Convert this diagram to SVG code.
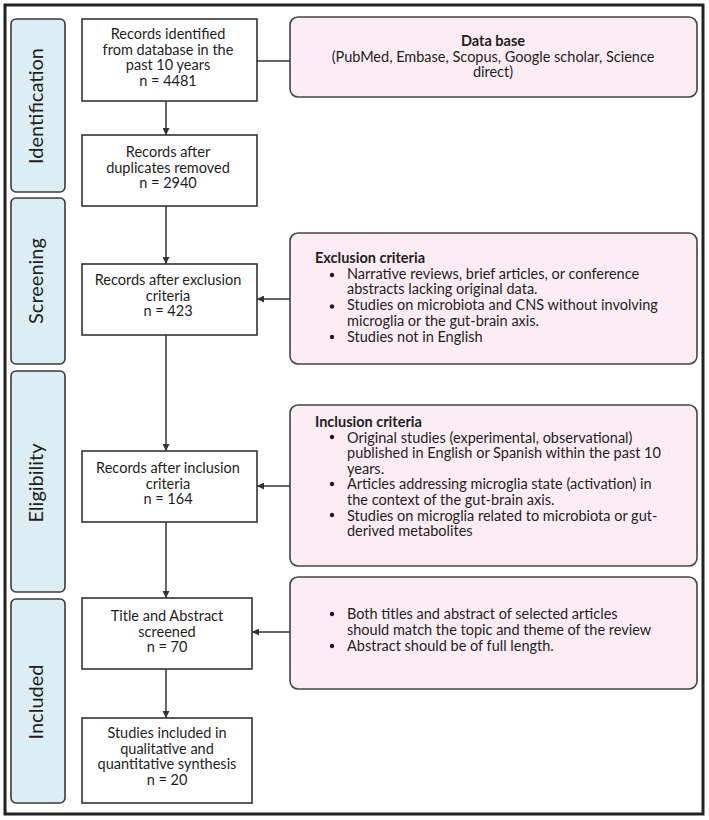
<svg xmlns="http://www.w3.org/2000/svg" width="709" height="820" viewBox="0 0 709 820">
<defs>
<style>
text{font-family:Lato,"Liberation Sans",sans-serif;fill:#1e1e1e;font-size:14.5px}
.c{text-anchor:middle}
.b{font-weight:bold}
.side rect{fill:#dcedf4;stroke:#3a3a3a;stroke-width:1.6}
.side text{font-size:20px;text-anchor:middle}
.box rect{fill:#fff;stroke:#333;stroke-width:1.6}
.crit rect{fill:#fcedf4;stroke:#444;stroke-width:1.6}
.crit circle{fill:#1e1e1e}
.con line{stroke:#333;stroke-width:1.5}
</style>
<marker id="ah" viewBox="0 0 10 10" refX="10" refY="5" markerWidth="7" markerHeight="7" orient="auto" markerUnits="userSpaceOnUse">
<path d="M0,0 L10,5 L0,10 z" fill="#333"/>
</marker>
</defs>
<rect x="5" y="5" width="698" height="809" fill="#fff" stroke="#222" stroke-width="3"/>

<g id="side-identification" class="side"><rect x="11" y="19" width="54" height="173" rx="5"/><text transform="translate(43,106) rotate(-90)">Identification</text></g>
<g id="side-screening" class="side"><rect x="11" y="198" width="54" height="166" rx="5"/><text transform="translate(43,281) rotate(-90)">Screening</text></g>
<g id="side-eligibility" class="side"><rect x="11" y="371" width="54" height="221" rx="5"/><text transform="translate(43,483) rotate(-90)">Eligibility</text></g>
<g id="side-included" class="side"><rect x="11" y="599" width="54" height="204" rx="5"/><text transform="translate(43,702) rotate(-90)">Included</text></g>

<g id="box-identified" class="box"><rect x="82" y="19" width="175" height="82"/>
<text class="c" x="168" y="39">Records identified<tspan x="168" dy="15.6">from database in the</tspan><tspan x="168" dy="15.6">past 10 years</tspan><tspan x="168" dy="15.6">n = 4481</tspan></text></g>
<g id="box-duplicates" class="box"><rect x="82" y="135" width="175" height="71"/>
<text class="c" x="168" y="157">Records after<tspan x="168" dy="15.6">duplicates removed</tspan><tspan x="168" dy="15.6">n = 2940</tspan></text></g>
<g id="box-exclusion" class="box"><rect x="82" y="264" width="175" height="71"/>
<text class="c" x="168" y="285">Records after exclusion<tspan x="168" dy="15.6">criteria</tspan><tspan x="168" dy="15.6">n = 423</tspan></text></g>
<g id="box-inclusion" class="box"><rect x="82" y="451" width="175" height="71"/>
<text class="c" x="168" y="473">Records after inclusion<tspan x="168" dy="15.6">criteria</tspan><tspan x="168" dy="15.6">n = 164</tspan></text></g>
<g id="box-title" class="box"><rect x="82" y="598" width="170" height="71"/>
<text class="c" x="167" y="621">Title and Abstract<tspan x="167" dy="15.6">screened</tspan><tspan x="167" dy="15.6">n = 70</tspan></text></g>
<g id="box-included" class="box"><rect x="82" y="718" width="170" height="85"/>
<text class="c" x="167" y="738">Studies included in<tspan x="167" dy="15.6">qualitative and</tspan><tspan x="167" dy="15.6">quantitative synthesis</tspan><tspan x="167" dy="15.6">n = 20</tspan></text></g>

<g id="crit-database" class="crit"><rect x="290" y="17" width="407" height="80" rx="8"/>
<text class="c" x="493" y="46"><tspan class="b">Data base</tspan><tspan x="493" dy="15.6">(PubMed, Embase, Scopus, Google scholar, Science</tspan><tspan x="493" dy="15.6">direct)</tspan></text></g>
<g id="crit-exclusion" class="crit"><rect x="290" y="233" width="407" height="131" rx="8"/>
<circle cx="332" cy="275" r="2.2"/><circle cx="332" cy="306.5" r="2.2"/><circle cx="332" cy="337" r="2.2"/>
<text x="315" y="263"><tspan class="b">Exclusion criteria</tspan><tspan x="347" dy="15.7">Narrative reviews, brief articles, or conference</tspan><tspan x="347" dy="15.7">abstracts lacking original data.</tspan><tspan x="347" dy="15.7">Studies on microbiota and CNS without involving</tspan><tspan x="347" dy="15.7">microglia or the gut-brain axis.</tspan><tspan x="347" dy="15.7">Studies not in English</tspan></text></g>
<g id="crit-inclusion" class="crit"><rect x="290" y="405" width="407" height="161" rx="8"/>
<circle cx="332" cy="437" r="2.2"/><circle cx="332" cy="484" r="2.2"/><circle cx="332" cy="515" r="2.2"/>
<text x="315" y="427"><tspan class="b">Inclusion criteria</tspan><tspan x="347" dy="15.6">Original studies (experimental, observational)</tspan><tspan x="347" dy="15.6">published in English or Spanish within the past 10</tspan><tspan x="347" dy="15.6">years.</tspan><tspan x="347" dy="15.6">Articles addressing microglia state (activation) in</tspan><tspan x="347" dy="15.6">the context of the gut-brain axis.</tspan><tspan x="347" dy="15.6">Studies on microglia related to microbiota or gut-</tspan><tspan x="347" dy="15.6">derived metabolites</tspan></text></g>
<g id="crit-screening" class="crit"><rect x="290" y="577" width="407" height="112" rx="8"/>
<circle cx="332" cy="614" r="2.2"/><circle cx="332" cy="646" r="2.2"/>
<text x="347" y="619">Both titles and abstract of selected articles<tspan x="347" dy="15.8">should match the topic and theme of the review</tspan><tspan x="347" dy="15.8">Abstract should be of full length.</tspan></text></g>

<g id="connectors" class="con">
<line x1="166" y1="101" x2="166" y2="135" marker-end="url(#ah)"/>
<line x1="166" y1="206" x2="166" y2="264" marker-end="url(#ah)"/>
<line x1="166" y1="335" x2="166" y2="451" marker-end="url(#ah)"/>
<line x1="166" y1="522" x2="166" y2="598" marker-end="url(#ah)"/>
<line x1="166" y1="669" x2="166" y2="718" marker-end="url(#ah)"/>
<line x1="257" y1="61" x2="290" y2="61"/>
<line x1="290" y1="299" x2="257" y2="299" marker-end="url(#ah)"/>
<line x1="290" y1="486" x2="257" y2="486" marker-end="url(#ah)"/>
<line x1="290" y1="632" x2="252" y2="632" marker-end="url(#ah)"/>
</g>
</svg>
